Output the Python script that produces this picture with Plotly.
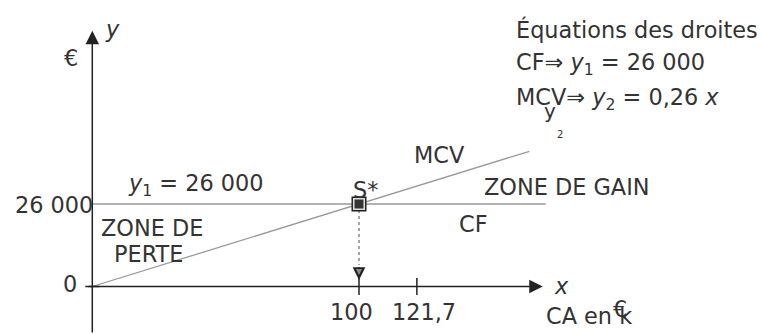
import plotly.graph_objects as go

# ---- data ----
couts_fixes = 26000          # CF (y1)
taux_mcv = 0.26              # MCV rate (y2 = 0.26 x, x in k€)
seuil_x = 100                # break-even CA (k€)
x_ticks = [100, 121.7]
x_tick_labels = ["100", "121,7"]
y_ticks = [0, 26000]
y_tick_labels = ["0", "26 000"]
cf_x_end = 170.0
mcv_x_end = 163.9
x_axis_span = [-2, 168.9]
y_axis_span = [-14970, 80615]

W, H = 763, 334
# scales
SX = 2.667           # px per k€
SY = 82.5 / 26000    # px per €
X0, Y0 = 92.3, 286.5 # origin in px
xr = [-X0 / SX, (W - X0) / SX]
yr = [-(H - Y0) / SY, Y0 / SY]

FONT = "DejaVu Sans"
FS = 22.4
TXT = "#333333"
AX = "#222222"
GRAY = "#999999"

def mcv(x):
    return taux_mcv * x * 1000

fig = go.Figure()

# CF line
fig.add_trace(go.Scatter(x=[0, cf_x_end], y=[couts_fixes, couts_fixes], mode="lines",
                         line=dict(color=GRAY, width=1.3), hoverinfo="skip"))
# MCV line
fig.add_trace(go.Scatter(x=[0, mcv_x_end], y=[mcv(0), mcv(mcv_x_end)], mode="lines",
                         line=dict(color=GRAY, width=1.3), hoverinfo="skip"))
# dotted drop line from break-even point
fig.add_trace(go.Scatter(x=[seuil_x, seuil_x], y=[couts_fixes, 6800], mode="lines",
                         line=dict(color="#888888", width=1.5, dash="dot"), hoverinfo="skip"))
# x ticks
fig.add_trace(go.Scatter(x=x_ticks, y=[0] * len(x_ticks), mode="markers",
                         marker=dict(symbol="line-ns-open", size=12, color=AX,
                                     line=dict(color=AX, width=1.5)), hoverinfo="skip"))
# y tick at 0
fig.add_trace(go.Scatter(x=[0], y=[y_ticks[0]], mode="markers",
                         marker=dict(symbol="line-ew-open", size=10, color=AX,
                                     line=dict(color=AX, width=1.5)), hoverinfo="skip"))
# break-even marker (layered)
fig.add_trace(go.Scatter(x=[seuil_x], y=[mcv(seuil_x)], mode="markers",
                         marker=dict(symbol="square", size=15, color="#1e1e1e",
                                     line=dict(width=0)), hoverinfo="skip"))
fig.add_trace(go.Scatter(x=[seuil_x], y=[mcv(seuil_x)], mode="markers",
                         marker=dict(symbol="square", size=10.5, color="#333333",
                                     line=dict(color="#dddddd", width=1.6)), hoverinfo="skip"))

annotations = []
# axes arrows
annotations.append(dict(x=0, y=y_axis_span[1], ax=0, ay=y_axis_span[0], xref="x", yref="y",
                        axref="x", ayref="y", text="", showarrow=True, arrowhead=2,
                        arrowsize=1.8, arrowwidth=1.5, arrowcolor=AX))
annotations.append(dict(x=x_axis_span[1], y=0, ax=x_axis_span[0], ay=0, xref="x", yref="y",
                        axref="x", ayref="y", text="", showarrow=True, arrowhead=2,
                        arrowsize=1.8, arrowwidth=1.5, arrowcolor=AX))
# drop arrow head (outer dark, inner grey)
annotations.append(dict(x=seuil_x, y=2050, ax=seuil_x, ay=6600, xref="x", yref="y",
                        axref="x", ayref="y", text="", showarrow=True, arrowhead=2,
                        arrowsize=1.7, arrowwidth=1.5, arrowcolor=AX))
annotations.append(dict(x=seuil_x, y=3600, ax=seuil_x, ay=5000, xref="x", yref="y",
                        axref="x", ayref="y", text="", showarrow=True, arrowhead=2,
                        arrowsize=1.0, arrowwidth=1.2, arrowcolor="#8a8a8a"))

def txt(text, xp, yp, size=FS, anchor="center", color=TXT):
    annotations.append(dict(text=text, x=xp / W, y=1 - yp / H, xref="paper", yref="paper",
                            xanchor=anchor, yanchor="middle", showarrow=False,
                            font=dict(family=FONT, size=size, color=color)))

cf_str = f"{couts_fixes:,}".replace(",", " ")
rate_str = f"{taux_mcv}".replace(".", ",")

txt("<i>y</i>", 112.5, 29.2)
txt("€", 70.5, 58.4)
txt("Équations des droites", 514, 29.1, anchor="left")
txt(f"CF⇒ <i>y</i><sub>1</sub> = {cf_str}", 514, 64.1, anchor="left")
txt(f"MCV⇒ <i>y</i><sub>2</sub> = {rate_str} <i>x</i>", 514, 99.1, anchor="left")
txt("y", 549.5, 111.4, size=20)
txt("2", 559.5, 134.9, size=10)
txt("MCV", 440, 155.1)
txt(f"<i>y</i><sub>1</sub> = {cf_str}", 126, 185.4, anchor="left")
txt("S*", 365.3, 190.4)
txt("ZONE DE GAIN", 567, 187.4)
txt(y_tick_labels[1], 53.5, 205.4)
txt("ZONE DE", 151.5, 228.4)
txt("PERTE", 148.5, 254.4)
txt("CF", 473.7, 224.1)
txt(y_tick_labels[0], 70, 284.4)
txt("<i>x</i>", 561.7, 285.7)
txt("CA en k", 544, 315.7, anchor="left")
txt("€", 620, 309.1)

# x tick labels, placed relative to their ticks
offsets = [-8, 7]
for v, lab, off in zip(x_ticks, x_tick_labels, offsets):
    annotations.append(dict(text=lab, x=v, y=1 - 312.4 / H, xref="x", yref="paper",
                            xanchor="center", yanchor="middle", xshift=off, showarrow=False,
                            font=dict(family=FONT, size=FS, color=TXT)))

fig.update_layout(
    width=W, height=H, autosize=False,
    margin=dict(l=0, r=0, t=0, b=0),
    paper_bgcolor="white", plot_bgcolor="white",
    showlegend=False,
    xaxis=dict(range=xr, visible=False, fixedrange=True),
    yaxis=dict(range=yr, visible=False, fixedrange=True),
    annotations=annotations,
)

fig.write_html("out.html", config={"displayModeBar": False},
               post_script="document.body.style.margin='0';document.body.style.padding='0';document.body.style.overflow='hidden';")
